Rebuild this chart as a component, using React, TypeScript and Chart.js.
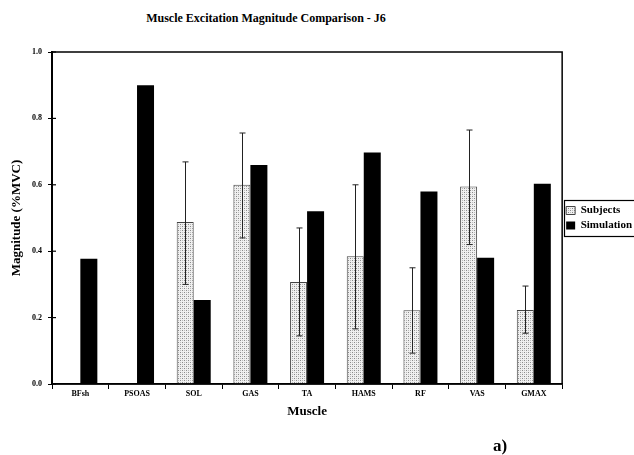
import React, { useEffect, useRef } from "react";
import { Chart, registerables } from "chart.js";

Chart.register(...registerables);

const categories = ["BFsh", "PSOAS", "SOL", "GAS", "TA", "HAMS", "RF", "VAS", "GMAX"];
const subjects = [null, null, 0.488, 0.6, 0.307, 0.385, 0.222, 0.595, 0.223];
const subjectsHigh = [null, null, 0.669, 0.756, 0.47, 0.6, 0.35, 0.765, 0.295];
const subjectsLow = [null, null, 0.3, 0.44, 0.145, 0.166, 0.093, 0.42, 0.153];
const simulation = [0.377, 0.9, 0.253, 0.66, 0.52, 0.697, 0.58, 0.38, 0.603];
const yTicks = [0, 0.2, 0.4, 0.6, 0.8, 1.0];

const SERIF = "'Liberation Serif', 'Times New Roman', serif";

function makePattern(): CanvasPattern | string {
  const c = document.createElement("canvas");
  c.width = 4;
  c.height = 4;
  const g = c.getContext("2d");
  if (!g) return "#d8d8d8";
  g.fillStyle = "#f0f0f0";
  g.fillRect(0, 0, 4, 4);
  g.fillStyle = "#8a8a8a";
  g.fillRect(0, 0, 1, 1);
  g.fillRect(2, 2, 1, 1);
  g.fillStyle = "#bdbdbd";
  g.fillRect(2, 0, 1, 1);
  g.fillRect(0, 2, 1, 1);
  const p = g.createPattern(c, "repeat");
  return p || "#d8d8d8";
}

const framePlugin = {
  id: "frame",
  afterDraw(chart: any) {
    const { ctx, chartArea } = chart;
    const y = chart.scales.y;
    ctx.save();
    ctx.strokeStyle = "#000";
    ctx.lineWidth = 1.5;
    ctx.strokeRect(chartArea.left, chartArea.top, chartArea.right - chartArea.left, chartArea.bottom - chartArea.top);
    ctx.lineWidth = 2;
    ctx.beginPath();
    ctx.moveTo(chartArea.left, chartArea.top);
    ctx.lineTo(chartArea.left, chartArea.bottom);
    ctx.stroke();
    ctx.lineWidth = 1.2;
    yTicks.forEach((v) => {
      const py = y.getPixelForValue(v);
      ctx.beginPath();
      ctx.moveTo(chartArea.left, py);
      ctx.lineTo(chartArea.left + 4, py);
      ctx.stroke();
    });
    // legend border
    const lg = chart.legend;
    if (lg && lg.legendHitBoxes && lg.legendHitBoxes.length) {
      let l = Infinity, t = Infinity, b = -Infinity;
      lg.legendHitBoxes.forEach((h: any) => {
        l = Math.min(l, h.left);
        t = Math.min(t, h.top);
        b = Math.max(b, h.top + h.height);
      });
      ctx.lineWidth = 1.2;
      ctx.strokeRect(Math.round(l - 2) + 0.5, Math.round(t - 5) + 0.5, chart.width + 20 - (l - 2), Math.round(b - t + 10));
    }
    ctx.restore();
  },
};

const errorBarPlugin = {
  id: "errorBars",
  afterDatasetsDraw(chart: any) {
    const { ctx } = chart;
    const meta = chart.getDatasetMeta(0);
    const y = chart.scales.y;
    ctx.save();
    ctx.strokeStyle = "#222";
    ctx.lineWidth = 1;
    meta.data.forEach((bar: any, i: number) => {
      const hi = subjectsHigh[i];
      const lo = subjectsLow[i];
      if (hi == null || lo == null) return;
      const x = Math.round(bar.x) + 0.5;
      const yh = y.getPixelForValue(hi);
      const yl = y.getPixelForValue(lo);
      ctx.beginPath();
      ctx.moveTo(x, yh);
      ctx.lineTo(x, yl);
      ctx.moveTo(x - 3, yh);
      ctx.lineTo(x + 3, yh);
      ctx.moveTo(x - 3, yl);
      ctx.lineTo(x + 3, yl);
      ctx.stroke();
    });
    ctx.restore();
  },
};

export default function App() {
  const ref = useRef<HTMLCanvasElement>(null);

  useEffect(() => {
    if (!ref.current) return;
    const pattern = makePattern();
    const chart = new Chart(ref.current, {
      type: "bar",
      data: {
        labels: categories,
        datasets: [
          {
            label: "Subjects",
            data: subjects as any,
            backgroundColor: pattern as any,
            borderColor: "#444",
            borderWidth: 1,
            borderSkipped: "bottom",
          },
          {
            label: "Simulation",
            data: simulation,
            backgroundColor: "#000",
            borderColor: "#000",
            borderWidth: 0,
          },
        ],
      },
      options: {
        animation: false,
        responsive: false,
        maintainAspectRatio: false,
        layout: { padding: { left: 0, top: 52, right: 0, bottom: 31 } },
        datasets: { bar: { categoryPercentage: 0.6, barPercentage: 1.0 } },
        plugins: {
          title: { display: false },
          tooltip: { enabled: false },
          legend: {
            display: true,
            position: "right",
            align: "center",
            fullSize: false,
            maxWidth: 80,
            labels: {
              color: "#000",
              boxWidth: 9,
              boxHeight: 8,
              padding: 4,
              font: { family: SERIF, size: 11, weight: "bold" },
            },
          },
        },
        scales: {
          x: {
            afterFit: (s: any) => {
              s.height = 40;
            },
            grid: {
              display: true,
              offset: true,
              drawOnChartArea: false,
              drawTicks: true,
              tickLength: 5,
              color: "#000",
            },
            border: { display: true, color: "#000", width: 1.5 },
            ticks: {
              color: "#000",
              padding: 0,
              font: { family: SERIF, size: 8, weight: "bold" },
            },
            title: {
              display: true,
              text: "Muscle",
              color: "#000",
              padding: { top: 0, bottom: 5 },
              font: { family: SERIF, size: 13, weight: "bold" },
            },
          },
          y: {
            min: 0,
            max: 1,
            afterFit: (s: any) => {
              s.width = 52;
            },
            afterBuildTicks: (s: any) => {
              s.ticks = yTicks.map((v) => ({ value: v }));
            },
            grid: {
              display: true,
              drawOnChartArea: false,
              drawTicks: true,
              tickLength: 4,
              color: "#000",
            },
            border: { display: true, color: "#000", width: 2 },
            ticks: {
              color: "#000",
              padding: 6,
              font: { family: SERIF, size: 8, weight: "bold" },
              callback: (v: any) => Number(v).toFixed(1),
            },
            title: {
              display: true,
              text: "Magnitude (%MVC)",
              color: "#000",
              padding: { top: 9, bottom: 0 },
              font: { family: SERIF, size: 13, weight: "bold" },
            },
          },
        },
      },
      plugins: [errorBarPlugin, framePlugin],
    });
    return () => chart.destroy();
  }, []);

  return (
    <div
      style={{
        position: "fixed",
        left: 0,
        top: 0,
        width: 634,
        height: 455,
        overflow: "hidden",
        background: "#fff",
        fontFamily: SERIF,
      }}
    >
      <div
        style={{
          position: "absolute",
          left: 0,
          top: 11,
          width: 532,
          textAlign: "center",
          fontWeight: "bold",
          fontSize: 12,
          lineHeight: "14px",
          color: "#000",
        }}
      >
        Muscle Excitation Magnitude Comparison - J6
      </div>
      <canvas ref={ref} width={642} height={455} style={{ position: "absolute", left: 0, top: 0 }} />
      <div
        style={{
          position: "absolute",
          left: 493,
          top: 436,
          fontWeight: "bold",
          fontSize: 17,
          lineHeight: "19px",
          color: "#000",
        }}
      >
        a)
      </div>
    </div>
  );
}
